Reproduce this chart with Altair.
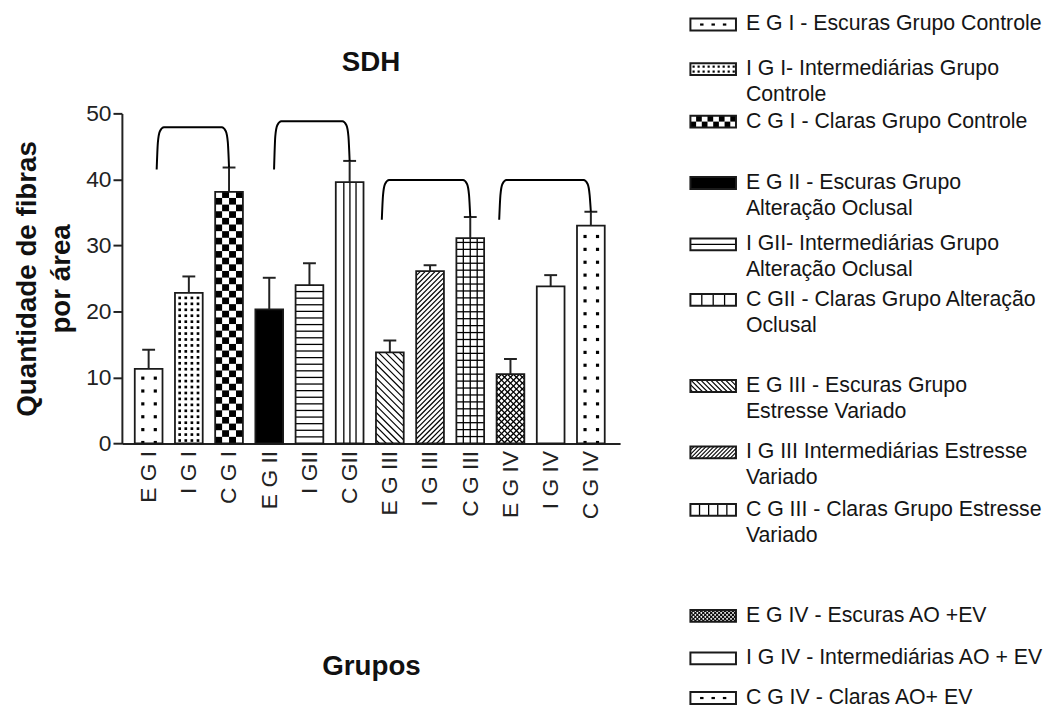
import json
import altair as alt
import numpy as np
import pandas as pd

# ---------------- data ----------------
CATEGORIES = ["E G I", "I G I", "C G I", "E G II", "I GII", "C GII",
              "E G III", "I G III", "C G III", "E G IV", "I G IV", "C G IV"]
MEANS = [11.3, 22.8, 38.1, 20.3, 24.0, 39.6, 13.8, 26.1, 31.1, 10.5, 23.8, 33.0]
SEM = [2.9, 2.5, 3.7, 4.8, 3.3, 3.2, 1.8, 0.9, 3.2, 2.3, 1.7, 2.1]
PATTERNS = ["dots_sparse", "dots_dense", "checker", "solid", "hlines", "vlines",
            "diag_back", "diag_fwd", "grid", "crosshatch", "blank", "dots_sparse"]

BRACKET_LEFT_BAR = [0, 3, 6, 9]
BRACKET_LEFT_SHIFT = [0.2, 0.12, -0.2, -0.28]
BRACKET_RIGHT_BAR = [2, 5, 8, 11]
BRACKET_TOP = [47.9, 48.8, 39.9, 39.9]
BRACKET_FOOT = [41.5, 41.5, 33.9, 33.9]

LEGEND_LINES = [
    ["E G I - Escuras Grupo Controle"],
    ["I G I- Intermediárias Grupo", "Controle"],
    ["C G I - Claras Grupo Controle"],
    ["E G II - Escuras Grupo", "Alteração Oclusal"],
    ["I GII- Intermediárias Grupo", "Alteração Oclusal"],
    ["C GII - Claras Grupo Alteração", "Oclusal"],
    ["\u00a0E G III - Escuras Grupo", "Estresse Variado"],
    ["I G III Intermediárias Estresse", "Variado"],
    ["C G III - Claras Grupo Estresse", "Variado"],
    ["E G IV - Escuras AO +EV"],
    ["I G IV - Intermediárias AO + EV"],
    ["C G IV - Claras AO+ EV"],
]
TITLE = "SDH"
Y_TITLE = ["Quantidade de fibras", "por área"]
X_TITLE = "Grupos"

# ---------------- layout ----------------
FONT = "Liberation Sans"
W, H = 503, 333.3
XDOM = [-0.665, 11.727]
YDOM = [0, 50]
PXX = W / (XDOM[1] - XDOM[0])
PXY = H / (YDOM[1] - YDOM[0])
BAR_HALF = 0.345
CAP_HALF = 0.16
PLOT_TOP = 109.7          # page y of the plot top (legend panel shares it)
LW = 390
SPACING = 20
SW_X0, SW_W, SW_H = 51, 46, 12
TXT_X = 107
LINE_H = 26
LEGEND_ROW_Y = [20, 65, 118, 180, 242, 298, 385, 452, 510, 617, 660, 700]

BAR_TEX = {
    "dots_sparse": dict(cols=[0.29, 0.74], start=1, step=13, dw=3.2, dh=3.2),
    "dots_dense": dict(cols=[0.17, 0.39, 0.61, 0.83], start=3, step=6, dw=2.7, dh=2.7),
    "checker": dict(nx=4, ch=6.7),
    "hlines": dict(step=6.67, sw=1.3),
    "vlines": dict(fracs=[0.29, 0.51, 0.73], sw=1.3),
    "diag_back": dict(step=7, sw=1.2),
    "diag_fwd": dict(step=5, sw=1.2),
    "grid": dict(step=7, fracs=[0.25, 0.5, 0.75], sw=1.3),
    "crosshatch": dict(step=6, sw=1.3),
}
LEG_TEX = {
    "dots_sparse": dict(cols=[0.25, 0.5, 0.75], start=6, step=100, dw=3.5, dh=2.2),
    "dots_dense": dict(cols=list(np.arange(0.07, 1.0, 0.11)), start=3.5, step=5, dw=2.2, dh=2.2),
    "checker": dict(nx=8, ch=6),
    "hlines": dict(step=6, sw=1.4),
    "vlines": dict(fracs=[0.25, 0.5, 0.75], sw=1.3),
    "diag_back": dict(step=5, sw=1.1),
    "diag_fwd": dict(step=4, sw=1.1),
    "grid": dict(step=100, fracs=[0.2, 0.4, 0.6, 0.8], sw=1.3),
    "crosshatch": dict(step=4, sw=1.1),
}


def diag(w, h, step, sign, sw):
    segs = []
    if sign > 0:  # v = c + u
        for c in np.arange(-w + step / 2, h, step):
            u0, u1 = max(0, -c), min(w, h - c)
            if u1 - u0 > 0.3:
                segs.append((u0, c + u0, u1, c + u1, sw))
    else:  # v = c - u
        for c in np.arange(step / 2, h + w, step):
            u0, u1 = max(0, c - h), min(w, c)
            if u1 - u0 > 0.3:
                segs.append((u0, c - u0, u1, c - u1, sw))
    return segs


def texture(kind, w, h, p):
    rects, segs = [], []
    if kind == "solid":
        rects.append((0, w, 0, h))
    elif kind.startswith("dots"):
        v = p["start"]
        while v + p["dh"] / 2 <= h - 0.3:
            for f in p["cols"]:
                u = f * w
                rects.append((u - p["dw"] / 2, u + p["dw"] / 2, max(0, v - p["dh"] / 2), v + p["dh"] / 2))
            v += p["step"]
    elif kind == "checker":
        cw = w / p["nx"]
        r = 0
        while r * p["ch"] < h - 0.3:
            for c in range(p["nx"]):
                if (r + c) % 2 == 0:
                    rects.append((c * cw, (c + 1) * cw, r * p["ch"], min((r + 1) * p["ch"], h)))
            r += 1
    elif kind in ("hlines", "grid"):
        v = p["step"]
        while v < h - 1:
            segs.append((0, v, w, v, p["sw"]))
            v += p["step"]
        if kind == "grid":
            for f in p["fracs"]:
                segs.append((f * w, 0, f * w, h, p["sw"]))
    elif kind == "vlines":
        for f in p["fracs"]:
            segs.append((f * w, 0, f * w, h, p["sw"]))
    elif kind == "diag_back":
        segs += diag(w, h, p["step"], -1, p["sw"])
    elif kind == "diag_fwd":
        segs += diag(w, h, p["step"], 1, p["sw"])
    elif kind == "crosshatch":
        segs += diag(w, h, p["step"], -1, p["sw"]) + diag(w, h, p["step"], 1, p["sw"])
    return rects, segs


# ---------------- bar chart tables ----------------
bars = pd.DataFrame({
    "cat": CATEGORIES,
    "i": range(len(CATEGORIES)),
    "mean": MEANS,
    "sem": SEM,
})
bars["x0"] = bars["i"] - BAR_HALF
bars["x1"] = bars["i"] + BAR_HALF
bars["base"] = 0.0
bars["top"] = bars["mean"] + bars["sem"]
bars["cl"] = bars["i"] - CAP_HALF
bars["cr"] = bars["i"] + CAP_HALF

trect, tseg = [], []
bw = 2 * BAR_HALF * PXX
for i, kind in enumerate(PATTERNS):
    if kind == "blank":
        continue
    rs, ss = texture(kind, bw, MEANS[i] * PXY, BAR_TEX.get(kind, {}))
    x0 = i - BAR_HALF
    for u0, u1, v0, v1 in rs:
        trect.append(dict(x=x0 + u0 / PXX, x2=x0 + u1 / PXX, y=v0 / PXY, y2=v1 / PXY))
    for u0, v0, u1, v1, sw in ss:
        tseg.append(dict(x=x0 + u0 / PXX, y=v0 / PXY, x2=x0 + u1 / PXX, y2=v1 / PXY, sw=sw))
trect = pd.DataFrame(trect)
tseg = pd.DataFrame(tseg)

brk = []
for b in range(len(BRACKET_TOP)):
    xl = BRACKET_LEFT_BAR[b] + BRACKET_LEFT_SHIFT[b]
    r = BRACKET_RIGHT_BAR[b]
    xr = float(r)
    top = BRACKET_TOP[b]
    fl = BRACKET_FOOT[b]
    fr = MEANS[r] + SEM[r]
    pts = [(xl, fl), (xl + 0.03, top - 2.3), (xl + 0.08, top - 0.6), (xl + 0.18, top),
           (xr - 0.18, top), (xr - 0.08, top - 0.6), (xr - 0.03, top - 2.3), (xr, fr)]
    for k, (px, py) in enumerate(pts):
        brk.append(dict(b=b, k=k, x=px, y=py))
brk = pd.DataFrame(brk)

xscale = alt.Scale(domain=XDOM, nice=False, zero=False)
yscale = alt.Scale(domain=YDOM, nice=False, zero=False)
label_expr = json.dumps(CATEGORIES) + "[datum.value]"

xaxis = alt.Axis(values=list(range(len(CATEGORIES))), labelExpr=label_expr, labelAngle=270,
                 ticks=False, grid=False, domainWidth=2, domainColor="#222",
                 labelFont=FONT, labelFontSize=23, labelColor="#222", labelPadding=7,
                 labelOverlap=False, labelFlush=False, labelBound=False,
                 titleFont=FONT, titleFontSize=28, titleFontWeight="bold", titleColor="#111",
                 titlePadding=135)
yaxis = alt.Axis(values=[0, 10, 20, 30, 40, 50], grid=False, tickSize=9, tickWidth=2,
                 tickColor="#222", domainWidth=2, domainColor="#222",
                 labelFont=FONT, labelFontSize=23, labelColor="#222", labelPadding=2,
                 labelFlush=False, labelOverlap=False,
                 titleFont=FONT, titleFontSize=28, titleFontWeight="bold", titleColor="#111",
                 titlePadding=10, titleLineHeight=35)


def X(field):
    return alt.X(field, scale=xscale, axis=xaxis, title=X_TITLE)


def Y(field):
    return alt.Y(field, scale=yscale, axis=yaxis, title=Y_TITLE)


base = alt.Chart(bars).mark_rect(fill="white", strokeWidth=0).encode(
    x=X("x0:Q"), x2="x1:Q", y=Y("mean:Q"), y2="base:Q",
)
tex_r = alt.Chart(trect).mark_rect(fill="black", strokeWidth=0).encode(
    x=X("x:Q"), x2="x2:Q", y=Y("y:Q"), y2="y2:Q",
)
tex_s = alt.Chart(tseg).mark_rule(color="black").encode(
    x=X("x:Q"), x2="x2:Q", y=Y("y:Q"), y2="y2:Q",
    strokeWidth=alt.StrokeWidth("sw:Q", scale=None, legend=None),
)
outline = alt.Chart(bars).mark_rect(fillOpacity=0, stroke="#1a1a1a", strokeWidth=1.8).encode(
    x=X("x0:Q"), x2="x1:Q", y=Y("mean:Q"), y2="base:Q",
)
err = alt.Chart(bars).mark_rule(color="#222", strokeWidth=2).encode(
    x=X("i:Q"), y=Y("mean:Q"), y2="top:Q",
)
caps = alt.Chart(bars).mark_rule(color="#222", strokeWidth=2).encode(
    x=X("cl:Q"), x2="cr:Q", y=Y("top:Q"),
)
brackets = alt.Chart(brk).mark_line(color="black", strokeWidth=2, interpolate="monotone").encode(
    x=X("x:Q"), y=Y("y:Q"), detail="b:N", order="k:Q",
)

left = alt.layer(base, tex_r, tex_s, outline, err, caps, brackets).properties(
    width=W, height=H,
    title=alt.TitleParams(TITLE, font=FONT, fontSize=28, fontWeight="bold", color="#111",
                          offset=26, anchor="middle"),
)

# ---------------- legend panel ----------------
sw_rows, ltxt, lrect, lseg = [], [], [], []
for k, lines in enumerate(LEGEND_LINES):
    yc = LEGEND_ROW_Y[k]
    sw_rows.append(dict(x=SW_X0, x2=SW_X0 + SW_W, y=yc - SW_H / 2, y2=yc + SW_H / 2))
    for j, t in enumerate(lines):
        ltxt.append(dict(x=TXT_X, y=yc + j * LINE_H, t=t))
    kind = PATTERNS[k]
    if kind == "blank":
        continue
    rs, ss = texture(kind, SW_W, SW_H, LEG_TEX.get(kind, {}))
    yb = yc + SW_H / 2
    for u0, u1, v0, v1 in rs:
        lrect.append(dict(x=SW_X0 + u0, x2=SW_X0 + u1, y=yb - v0, y2=yb - v1))
    for u0, v0, u1, v1, s in ss:
        lseg.append(dict(x=SW_X0 + u0, y=yb - v0, x2=SW_X0 + u1, y2=yb - v1, sw=s))
sw_rows = pd.DataFrame(sw_rows)
ltxt = pd.DataFrame(ltxt)
lrect = pd.DataFrame(lrect)
lseg = pd.DataFrame(lseg)

lx = alt.Scale(domain=[0, LW], nice=False, zero=False)
ly = alt.Scale(domain=[PLOT_TOP, PLOT_TOP + H], nice=False, zero=False, reverse=True)

l_base = alt.Chart(sw_rows).mark_rect(fill="white", strokeWidth=0).encode(
    x=alt.X("x:Q", scale=lx, axis=None), x2="x2:Q",
    y=alt.Y("y:Q", scale=ly, axis=None), y2="y2:Q",
)
l_r = alt.Chart(lrect).mark_rect(fill="black", strokeWidth=0).encode(
    x=alt.X("x:Q", scale=lx, axis=None), x2="x2:Q",
    y=alt.Y("y:Q", scale=ly, axis=None), y2="y2:Q",
)
l_s = alt.Chart(lseg).mark_rule(color="black").encode(
    x=alt.X("x:Q", scale=lx, axis=None), x2="x2:Q",
    y=alt.Y("y:Q", scale=ly, axis=None), y2="y2:Q",
    strokeWidth=alt.StrokeWidth("sw:Q", scale=None, legend=None),
)
l_out = alt.Chart(sw_rows).mark_rect(fillOpacity=0, stroke="#1a1a1a", strokeWidth=2).encode(
    x=alt.X("x:Q", scale=lx, axis=None), x2="x2:Q",
    y=alt.Y("y:Q", scale=ly, axis=None), y2="y2:Q",
)
l_txt = alt.Chart(ltxt).mark_text(align="left", baseline="middle", font=FONT, fontSize=21.5,
                                  color="#151515").encode(
    x=alt.X("x:Q", scale=lx, axis=None),
    y=alt.Y("y:Q", scale=ly, axis=None),
    text="t:N",
)
legend = alt.layer(l_base, l_r, l_s, l_out, l_txt).properties(width=LW, height=H)

chart = alt.hconcat(left, legend, spacing=SPACING, bounds="flush").properties(
    padding={"left": 5, "top": 2, "right": 0, "bottom": 0}
).configure_view(stroke=None).configure_concat(spacing=SPACING)

chart.save("out.html", embed_options={"renderer": "svg", "actions": False})
